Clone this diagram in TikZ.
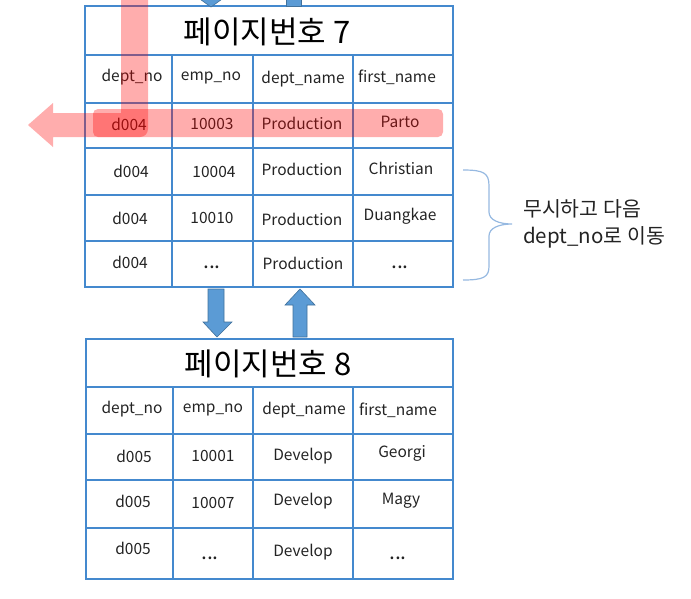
\documentclass[tikz,border=0pt]{standalone}
\usepackage{fontspec}
\setmainfont{Noto Sans CJK KR}
\definecolor{tline}{RGB}{68,137,206}
\definecolor{arrfill}{RGB}{91,155,213}
\definecolor{arrline}{RGB}{65,113,156}
\definecolor{bracec}{RGB}{150,185,225}
\definecolor{txt}{RGB}{35,35,35}
\tikzset{
  grid/.style={draw=tline, line width=1.2pt},
  cell/.style={inner sep=0pt, text=txt, font=\fontsize{15.5}{18}\selectfont},
  dots/.style={inner sep=0pt, text=txt, font=\fontsize{21}{24}\selectfont},
  titlet/.style={inner sep=0pt, text=black, font=\fontsize{31}{34}\selectfont},
  blockarrow/.style={fill=arrfill, draw=arrline, line width=0.6pt},
  pinkmark/.style={fill=red, fill opacity=0.32},
}
\begin{document}
\begin{tikzpicture}[x=1pt,y=-1pt]
\useasboundingbox (0,0) rectangle (691,598);
\clip (0,0) rectangle (691,598);

% ---------- table page 7 ----------
\draw[grid] (85,6) rectangle (453,287);
\foreach \y in {55,103,148,195,241} \draw[grid] (85,\y) -- (453,\y);
\foreach \x in {172,253,353} \draw[grid] (\x,55) -- (\x,287);
\node[titlet] (t7) at (267,32) {페이지번호 7};
\node[cell] (a11) at (132,77) {dept\_no};
\node[cell] (a12) at (211,78) {emp\_no};
\node[cell] (a13) at (303,79) {dept\_name};
\node[cell] (a14) at (397,77) {first\_name};
\node[cell] (a21) at (129,124) {d004};
\node[cell] (a22) at (212,124) {10003};
\node[cell] (a23) at (302,123) {Production};
\node[cell] (a24) at (400,122) {Parto};
\node[cell] (a31) at (131,171) {d004};
\node[cell] (a32) at (214,172) {10004};
\node[cell] (a33) at (302,169) {Production};
\node[cell] (a34) at (401,168) {Christian};
\node[cell] (a41) at (130,218) {d004};
\node[cell] (a42) at (212,218) {10010};
\node[cell] (a43) at (302,219) {Production};
\node[cell] (a44) at (400,216) {Duangkae};
\node[cell] (a51) at (130,262) {d004};
\node[dots] (a52) at (212,267) {...};
\node[cell] (a53) at (303,263) {Production};
\node[dots] (a54) at (400,267) {...};

% ---------- table page 8 ----------
\draw[grid] (86,339) rectangle (453,579);
\foreach \y in {387,434,480,528} \draw[grid] (86,\y) -- (453,\y);
\foreach \x in {173,253,353} \draw[grid] (\x,387) -- (\x,579);
\node[titlet] (t8) at (268,364) {페이지번호 8};
\node[cell] (b11) at (132,409) {dept\_no};
\node[cell] (b12) at (213,410) {emp\_no};
\node[cell] (b13) at (304,410) {dept\_name};
\node[cell] (b14) at (398,410) {first\_name};
\node[cell] (b21) at (134,456) {d005};
\node[cell] (b22) at (213,456) {10001};
\node[cell] (b23) at (303,456) {Develop};
\node[cell] (b24) at (402,453) {Georgi};
\node[cell] (b31) at (133,501) {d005};
\node[cell] (b32) at (213,503) {10007};
\node[cell] (b33) at (303,501) {Develop};
\node[cell] (b34) at (401,501) {Magy};
\node[cell] (b41) at (133,548) {d005};
\node[dots] (b42) at (210,558) {...};
\node[cell] (b43) at (303,552) {Develop};
\node[dots] (b44) at (398,558) {...};

% ---------- block arrows between pages ----------
\draw[blockarrow] (208,289) -- (224,289) -- (224,322) -- (232,322) -- (217,337)
  -- (203,322) -- (208,322) -- cycle;
\draw[blockarrow] (293,337) -- (307,337) -- (307,305) -- (315,305) -- (300,289)
  -- (285,305) -- (293,305) -- cycle;
% partial arrows at the top edge
\draw[blockarrow] (197,-3) -- (211,7) -- (225,-3) -- cycle;
\draw[blockarrow] (286,-5) rectangle (301,6);

% ---------- brace and note ----------
\draw[draw=bracec, line width=1.2pt]
  (463,170) .. controls (484,170) and (489,173) .. (489,186) -- (489,212)
  .. controls (489,220) and (499,224) .. (512,224)
  .. controls (499,224) and (489,228) .. (489,236) -- (489,266)
  .. controls (489,277) and (484,280) .. (463,280);
\node[inner sep=0pt, anchor=west, align=left, text=txt,
  font=\fontsize{20.5}{27}\selectfont] (note) at (523,224)
  {무시하고 다음\\dept\_no로 이동};

% ---------- pink highlight (drawn on top) ----------
\fill[pinkmark] (121,-5) -- (148,-5) -- (148,129)
  .. controls (148,133.4) and (144.4,137) .. (140,137)
  -- (53,137) -- (53,147) -- (28,125) -- (53,103) -- (53,113) -- (121,113) -- cycle;
\fill[pinkmark, rounded corners=5pt] (93,109) rectangle (443,137);
\end{tikzpicture}
\end{document}
